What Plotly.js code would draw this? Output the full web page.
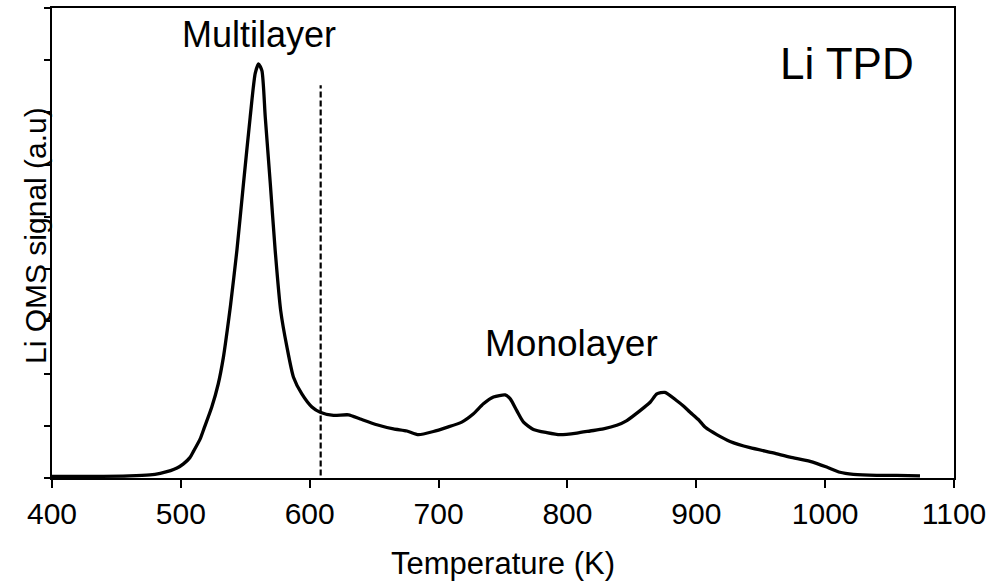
<!DOCTYPE html>
<html>
<head>
<meta charset="utf-8">
<script src="https://cdn.plot.ly/plotly-3.0.1.min.js"></script>
<style>
  html, body { margin: 0; padding: 0; background: #fff; }
  #chart { width: 1003px; height: 581px; }
</style>
</head>
<body>
<div id="chart"></div>
<script>
// Li temperature-programmed desorption trace (QMS signal, arbitrary units)
const temperatureK = [
  400, 430, 460, 476, 484, 492, 497, 502, 507, 510, 515, 518, 524, 529, 533, 536,
  538.5, 543.5, 548.6, 553.8, 557.7, 560.3, 562.9, 565.5, 569.4, 573.2, 577.5,
  582.3, 587.4, 593.9, 601.7, 608.1, 618.5, 630.1, 639.2, 652.1, 665, 675.4,
  684.4, 696, 706.4, 718, 727.1, 734.8, 742.6, 751.7, 755.5, 760.7, 765.9,
  773.6, 784, 794.3, 807.3, 817.6, 827.9, 838.3, 846.1, 856.4, 864.2, 869.4,
  875.6, 884.9, 890, 895.2, 901.6, 907, 915.9, 926.2, 941.7, 959.8, 972.8, 988.3,
  1001.2, 1011.5, 1021.9, 1040, 1055.5, 1073.6
];
const signal = [
  0.03, 0.03, 0.04, 0.06, 0.09, 0.14, 0.19, 0.27, 0.39, 0.52, 0.75, 0.95, 1.36, 1.80, 2.31, 2.83,
  3.30, 4.36, 5.64, 6.91, 7.75, 7.93, 7.80, 6.91, 5.64, 4.36, 3.20,
  2.51, 1.93, 1.61, 1.36, 1.26, 1.20, 1.21, 1.13, 1.02, 0.94, 0.90,
  0.83, 0.89, 0.97, 1.07, 1.23, 1.42, 1.55, 1.59, 1.52, 1.29, 1.07,
  0.93, 0.87, 0.83, 0.86, 0.90, 0.94, 1.01, 1.10, 1.29, 1.45, 1.61,
  1.64, 1.48, 1.38, 1.26, 1.12, 0.97, 0.83, 0.70, 0.58, 0.48, 0.40, 0.32,
  0.21, 0.11, 0.07, 0.05, 0.05, 0.04
];

// Boundary between multilayer and monolayer desorption
const dividerK = [608.5, 608.5];
const dividerSignal = [0.05, 7.52];

const xTicks = [400, 500, 600, 700, 800, 900, 1000, 1100];

const labelText = ['Multilayer', 'Monolayer', 'Li TPD'];
const labelK = [560.8, 803.3, 1017];
const labelSignal = [8.5, 2.58, 7.93];
const labelSize = [36, 37, 44];

const FONT = 'Arial, "Liberation Sans", sans-serif';

const traces = [
  {
    x: temperatureK, y: signal, type: 'scatter', mode: 'lines',
    line: { color: '#000', width: 3.3, shape: 'spline', smoothing: 0.6 },
    hoverinfo: 'skip'
  },
  {
    x: dividerK, y: dividerSignal, type: 'scatter', mode: 'lines',
    line: { color: '#000', width: 2.2, dash: '6px,3px' },
    hoverinfo: 'skip'
  }
];

const annotations = labelText.map((t, i) => ({
  text: t, x: labelK[i], y: labelSignal[i], xref: 'x', yref: 'y',
  showarrow: false, xanchor: 'center', yanchor: 'middle',
  font: { family: FONT, size: labelSize[i], color: '#000' }
}));

// Vertical axis title, set close against the axis line
annotations.push({
  text: 'Li QMS signal (a.u)', xref: 'paper', yref: 'paper', x: 0, y: 0.5,
  xanchor: 'center', yanchor: 'middle', xshift: -17, yshift: 7, textangle: -90,
  showarrow: false, font: { family: FONT, size: 30, color: '#000' }
});

const layout = {
  width: 1003, height: 581,
  margin: { l: 52, r: 49, t: 8, b: 103, pad: 0 },
  paper_bgcolor: '#fff', plot_bgcolor: '#fff',
  showlegend: false,
  font: { family: FONT, color: '#000' },
  xaxis: {
    range: [400, 1100], tickvals: xTicks, ticktext: xTicks.map(String),
    ticks: 'outside', ticklen: 8, tickwidth: 2, tickcolor: '#000',
    showline: true, linewidth: 2, linecolor: '#000', mirror: true,
    showgrid: false, zeroline: false,
    tickfont: { family: FONT, size: 30, color: '#000' },
    title: { text: 'Temperature (K)', font: { family: FONT, size: 31, color: '#000' }, standoff: 23 }
  },
  yaxis: {
    range: [0, 9], dtick: 1, tick0: 0,
    ticks: 'outside', ticklen: 6, tickwidth: 2, tickcolor: '#000',
    showticklabels: false,
    showline: true, linewidth: 2, linecolor: '#000', mirror: true,
    showgrid: false, zeroline: false
  },
  annotations: annotations
};

Plotly.newPlot('chart', traces, layout, { staticPlot: true, displayModeBar: false });
</script>
</body>
</html>
